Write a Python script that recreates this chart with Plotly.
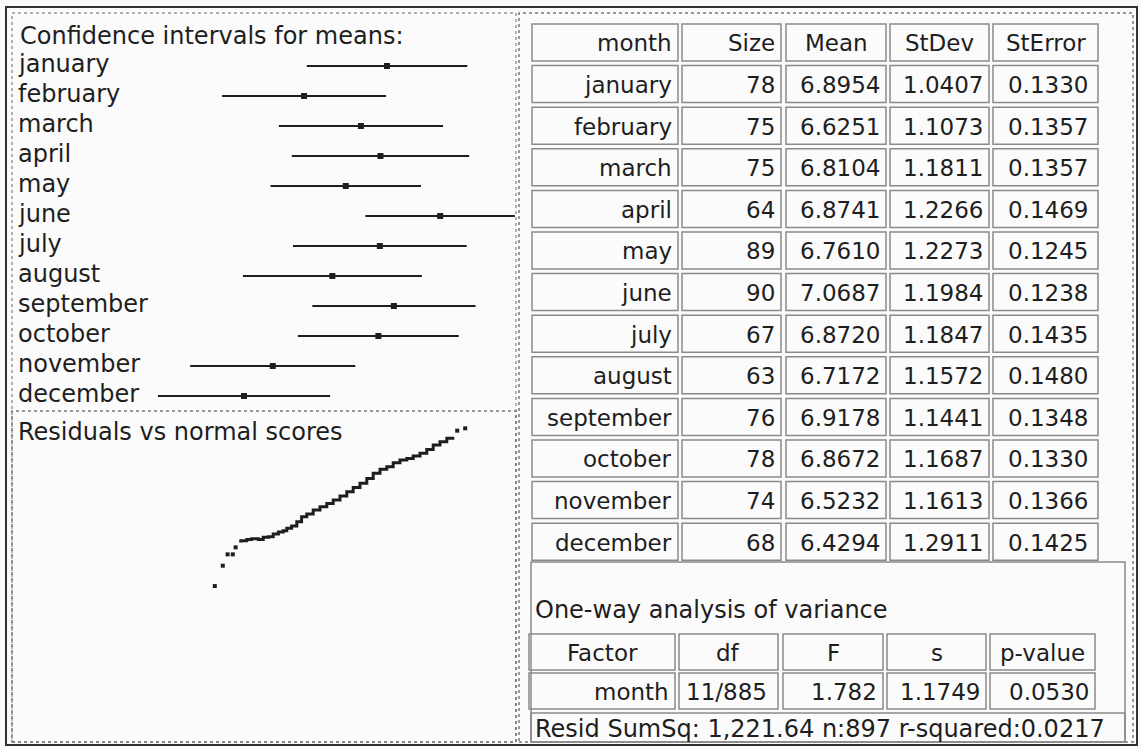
import plotly.graph_objects as go

W, H = 1141, 748

months = ["january", "february", "march", "april", "may", "june", "july",
          "august", "september", "october", "november", "december"]
sizes = [78, 75, 75, 64, 89, 90, 67, 63, 76, 78, 74, 68]
means = [6.8954, 6.6251, 6.8104, 6.8741, 6.7610, 7.0687, 6.8720, 6.7172, 6.9178, 6.8672, 6.5232, 6.4294]
stdevs = [1.0407, 1.1073, 1.1811, 1.2266, 1.2273, 1.1984, 1.1847, 1.1572, 1.1441, 1.1687, 1.1613, 1.2911]
sterrs = [0.1330, 0.1357, 0.1357, 0.1469, 0.1245, 0.1238, 0.1435, 0.1480, 0.1348, 0.1330, 0.1366, 0.1425]
# interval ends
ci_low = [6.634, 6.358, 6.543, 6.585, 6.516, 6.825, 6.589, 6.426, 6.652, 6.605, 6.254, 6.149]
ci_high = [7.157, 6.892, 7.078, 7.163, 7.006, 7.312, 7.155, 7.009, 7.184, 7.129, 6.792, 6.710]

table_header = ["month", "Size", "Mean", "StDev", "StError"]
anova_header = ["Factor", "df", "F", "s", "p-value"]
anova_row = ["month", "11/885", "1.782", "1.1749", "0.0530"]
resid_text = "Resid SumSq: 1,221.64 n:897 r-squared:0.0217"

# residuals vs normal scores
ns_low = [-3.13, -2.93, -2.81, -2.68, -2.61]
res_low = [-5.00, -3.87, -3.24, -3.24, -2.85]
ns_body = [-2.52, -2.46, -2.33, -2.21, -2.04, -1.92, -1.79, -1.67, -1.54, -1.42, -1.33, -1.21,
           -1.08, -0.96, -0.83, -0.67, -0.50, -0.33, -0.17, 0.00, 0.17, 0.33, 0.50, 0.67,
           0.83, 1.00, 1.17, 1.33, 1.50, 1.67, 1.83, 2.00, 2.17, 2.33, 2.50, 2.67, 2.82]
res_body = [-2.50, -2.48, -2.41, -2.37, -2.41, -2.29, -2.26, -2.11, -2.00, -1.93, -1.79, -1.67,
            -1.43, -1.15, -1.00, -0.78, -0.59, -0.41, -0.22, 0.00, 0.24, 0.48, 0.71, 0.98,
            1.26, 1.48, 1.63, 1.85, 2.00, 2.09, 2.22, 2.37, 2.59, 2.83, 3.02, 3.21, 3.29]
ns_high = [2.93, 3.13]
res_high = [3.63, 3.76]

FONT = "DejaVu Sans"
INK = "#1e1e1e"


def px(x):
    return x / W


def py(y):
    return 1 - y / H


fig = go.Figure()

# confidence interval segments
seg_x, seg_y = [], []
for i in range(len(months)):
    seg_x += [ci_low[i], ci_high[i], None]
    seg_y += [i, i, None]
fig.add_trace(go.Scatter(x=seg_x, y=seg_y, mode="lines", line=dict(color=INK, width=2),
                         xaxis="x", yaxis="y", hoverinfo="skip"))
fig.add_trace(go.Scatter(x=means, y=list(range(len(months))), mode="markers",
                         marker=dict(symbol="square", size=6, color=INK),
                         xaxis="x", yaxis="y"))

# residual plot
fig.add_trace(go.Scatter(x=ns_body, y=res_body, mode="lines",
                         line=dict(color=INK, width=3, shape="hv"),
                         xaxis="x2", yaxis="y2"))
fig.add_trace(go.Scatter(x=ns_low + ns_high, y=res_low + res_high, mode="markers",
                         marker=dict(symbol="square", size=4, color=INK),
                         xaxis="x2", yaxis="y2"))

ann = []
shapes = []


def text(x, y, s, anchor="left", size=23):
    ann.append(dict(x=px(x), y=py(y), xref="paper", yref="paper", text=s, showarrow=False,
                    xanchor=anchor, yanchor="middle", font=dict(family=FONT, size=size, color=INK)))


def box(x0, y0, x1, y1, color="#8a8a8a", width=1.5, dash="solid"):
    shapes.append(dict(type="rect", xref="paper", yref="paper", x0=px(x0), x1=px(x1),
                       y0=py(y1), y1=py(y0), line=dict(color=color, width=width, dash=dash)))


# frames
box(6, 7, 1137, 745, color="#333333", width=2)
box(12, 13, 516, 742, color="#999999", width=1.5, dash="dot")
box(12, 411, 516, 742, color="#777777", width=1.5, dash="dot")
box(519, 13, 1133, 742, color="#777777", width=1.5, dash="dot")

# left panel texts
text(18, 36, "Confidence intervals for means:", size=24)
for i, m in enumerate(months):
    text(16, 66 + 30 * i - 2, m, size=24)
text(16, 432, "Residuals vs normal scores", size=24)

# summary table
cols = [(532, 678), (682, 781), (786, 886), (890, 989), (993, 1098)]
top0, pitch, ch = 24, 41.6, 37
for r in range(len(months) + 1):
    top = top0 + pitch * r
    for c, (x0, x1) in enumerate(cols):
        box(x0, top, x1, top + ch)
    mid = top + ch / 2 + 1
    if r == 0:
        for c, (x0, x1) in enumerate(cols):
            if c < 2:
                text(x1 - 4, mid, table_header[c], "right")
            else:
                text((x0 + x1) / 2, mid, table_header[c], "center")
    else:
        k = r - 1
        vals = [months[k], str(sizes[k]), f"{means[k]:.4f}", f"{stdevs[k]:.4f}", f"{sterrs[k]:.4f}"]
        for c, (x0, x1) in enumerate(cols):
            text(x1 - (4 if c < 4 else 8), mid, vals[c], "right")

# anova block
box(531, 562, 1125, 742)
text(533, 610, "One-way analysis of variance", size=24)
for c, (x0, x1) in enumerate(cols):
    box(x0 - 3, 634, x1 - 3, 670)
    text((x0 + x1) / 2 - 3, 653, anova_header[c], "center")
    box(x0 - 3, 673, x1 - 3, 709)
    if c == 1:
        text(x0 + 2, 692, anova_row[c], "left")
    else:
        text(x1 - 7, 692, anova_row[c], "right")
box(531, 713, 1125, 742)
text(533, 729, resid_text, size=24)

fig.update_layout(
    width=W, height=H,
    margin=dict(l=0, r=0, t=0, b=0),
    paper_bgcolor="#fbfbfb",
    plot_bgcolor="rgba(0,0,0,0)",
    showlegend=False,
    xaxis=dict(domain=[px(12), px(515)], range=[5.6735, 7.3124], visible=False, anchor="y"),
    yaxis=dict(domain=[py(410), py(50)], range=[11.467, -0.533], visible=False, anchor="x"),
    xaxis2=dict(domain=[px(12), px(515)], range=[-8.2, 4.375], visible=False, anchor="y2"),
    yaxis2=dict(domain=[py(738), py(415)], range=[-13.44, 4.5], visible=False, anchor="x2"),
    annotations=ann,
    shapes=shapes,
)

fig.write_html("out.html", config={"displayModeBar": False},
               post_script="document.body.style.margin='0px';")
